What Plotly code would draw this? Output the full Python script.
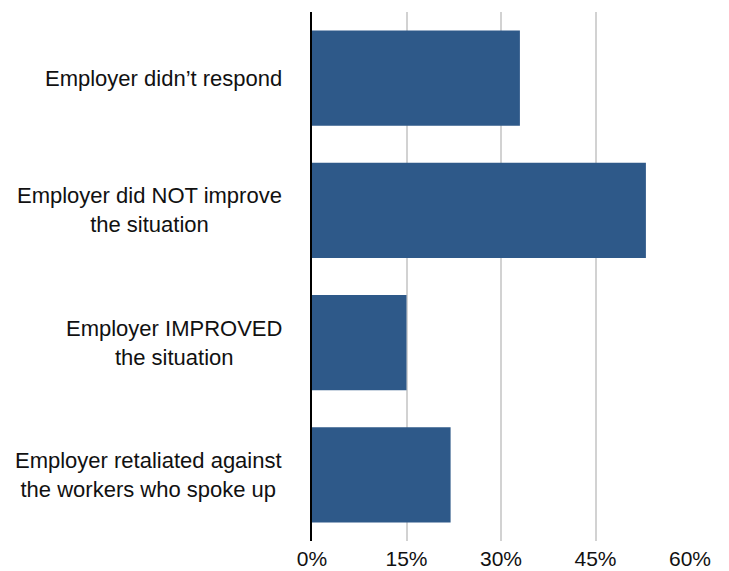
import plotly.graph_objects as go

# Employer responses after workers raised concerns (share of respondents, %)
categories = [
    "Employer didn’t respond",
    "Employer did NOT improve<br>the situation",
    "Employer IMPROVED<br>the situation",
    "Employer retaliated against<br>the workers who spoke up",
]
values = [33, 53, 15, 22]
tick_values = [0, 15, 30, 45, 60]
tick_labels = ["0%", "15%", "30%", "45%", "60%"]

FONT = "Liberation Sans, Arial, sans-serif"
BAR_COLOR = "#2E5989"

fig = go.Figure(
    go.Bar(
        x=values,
        y=categories,
        orientation="h",
        marker=dict(color=BAR_COLOR, line=dict(width=0)),
        hoverinfo="skip",
    )
)

# Category labels as annotations so multi-line labels are centred line by line
for cat in categories:
    fig.add_annotation(
        x=0, y=cat, xref="paper", yref="y",
        text=cat, showarrow=False,
        xanchor="right", yanchor="middle", align="center",
        xshift=-28,
        font=dict(family=FONT, size=22, color="#111111"),
    )

fig.update_layout(
    width=729, height=571,
    margin=dict(l=312, r=39, t=12, b=30),
    paper_bgcolor="white", plot_bgcolor="white",
    bargap=0.28,
    showlegend=False,
    font=dict(family=FONT, size=21, color="#111111"),
)
fig.update_xaxes(
    range=[0, 60], automargin=False,
    tickvals=tick_values, ticktext=tick_labels,
    showgrid=True, gridcolor="#d2d2d2", gridwidth=2,
    zeroline=False, showline=False, ticks="",
    ticklabelstandoff=3,
    tickfont=dict(family=FONT, size=21, color="#111111"),
)
fig.update_yaxes(
    categoryorder="array", categoryarray=categories,
    autorange="reversed", automargin=False,
    showticklabels=False, showgrid=False, zeroline=False,
    showline=True, linecolor="black", linewidth=2, ticks="",
)

fig.write_html("out.html")
